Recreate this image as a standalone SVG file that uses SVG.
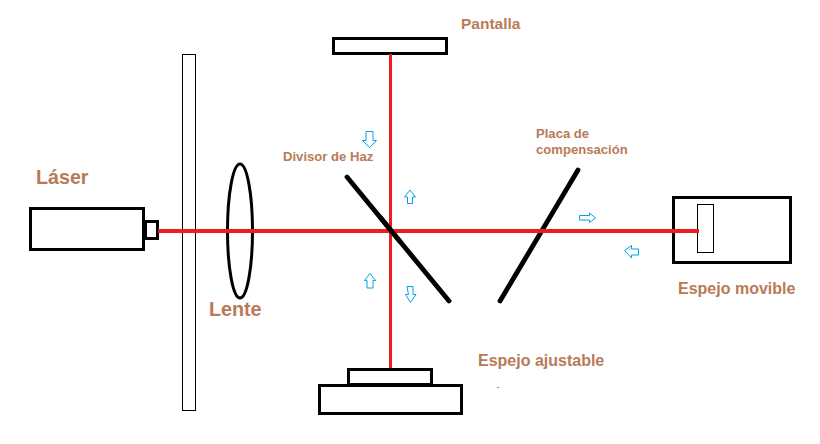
<svg xmlns="http://www.w3.org/2000/svg" width="820" height="444" viewBox="0 0 820 444">
<style>
.box{fill:#fff;stroke:#000;stroke-width:3}
.thin{fill:#fff;stroke:#000;stroke-width:1}
.plate{stroke:#000;stroke-width:4.800;stroke-linecap:round;fill:none}
.rayh{stroke:#ed1c24;stroke-width:4;fill:none}
.rayv{stroke:#ed1c24;stroke-width:3;fill:none}
.ar{fill:#fff;stroke:#00a2e8;stroke-width:1}
text{font-family:"Liberation Sans",Arial,sans-serif;font-weight:700;fill:#b97a57}
.lg{font-size:19.700px}.md{font-size:16px}.sm{font-size:13.100px}
</style>
<rect width="820" height="444" fill="#fff"/>
<g id="pantalla"><rect class="box" x="333.500" y="38.500" width="113" height="15"/><text class="md" style="font-size:15.500px" x="461" y="29">Pantalla</text></g>
<g id="laser"><rect class="box" x="30.500" y="208.500" width="113" height="41"/><rect class="box" x="145.500" y="221.500" width="12" height="17"/><text class="lg" x="36" y="184">Láser</text></g>
<g id="placa-vertical"><rect class="thin" x="182.500" y="54.500" width="13" height="356"/></g>
<g id="lente"><ellipse cx="240" cy="231" rx="12.500" ry="67" fill="none" stroke="#000" stroke-width="3"/><text class="lg" x="209" y="316">Lente</text></g>
<g id="espejo-movible"><rect class="box" x="673.500" y="197.500" width="117" height="65"/><rect class="thin" x="697.500" y="204.500" width="16" height="48"/><text class="md" x="678" y="294">Espejo movible</text></g>
<g id="espejo-ajustable"><rect class="box" x="348.500" y="369.500" width="83" height="15"/><rect class="box" x="319.500" y="385.500" width="142" height="28"/><text class="md" x="478" y="366">Espejo ajustable</text></g>
<g id="divisor"><line class="plate" x1="347" y1="177" x2="449" y2="301"/><text class="sm" x="283" y="161">Divisor de Haz</text></g>
<g id="placa-compensacion"><line class="plate" x1="578" y1="170" x2="500" y2="301"/><text class="sm" x="536" y="138">Placa de</text><text class="sm" x="536" y="154">compensación</text></g>
<g id="connectors">
<path class="rayv" d="M390.500 54V368"/>
<path class="rayh" d="M158 231H699"/>
<line class="plate" x1="380" y1="217" x2="400" y2="241.500" stroke-linecap="butt"/>
<path class="ar" d="M366 131.500h7v9h3.500l-7 7-7-7h3.500z"/>
<path class="ar" d="M410 190l5.500 7h-3v6.500h-5V197h-3z"/>
<path class="ar" d="M370 273.500l5.500 7H373v7.500h-6v-7.500h-2.500z"/>
<path class="ar" d="M407 286.500h6v8h3l-5.500 8-5-8h3z"/>
<path class="ar" d="M579.500 215.500h10v-2.500l6 5-6 4.500v-2.500h-10z"/>
<path class="ar" d="M624.500 250.500l7-5v3.500h7v6h-7v3z"/>
</g>
<rect x="497" y="387" width="2" height="1" fill="#8a8a8a"/>
</svg>
